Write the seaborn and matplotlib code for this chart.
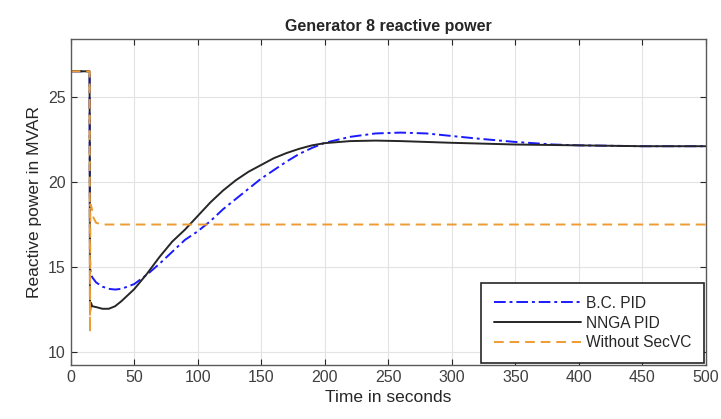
import matplotlib.pyplot as plt
import seaborn as sns
import pandas as pd

# values
t_bc = [0, 14.9, 15.2, 15.6, 17, 20, 25, 30, 35, 40, 50, 60, 70, 80, 90, 100, 110, 120,
        130, 140, 150, 160, 170, 180, 190, 200, 220, 240, 260, 280, 300, 320, 350, 380,
        400, 450, 500]
q_bc = [26.5, 26.5, 15.5, 14.7, 14.4, 14.1, 13.85, 13.72, 13.68, 13.72, 14.0, 14.55, 15.2,
        15.9, 16.6, 17.1, 17.7, 18.4, 19.0, 19.6, 20.2, 20.7, 21.2, 21.65, 22.0, 22.3, 22.65,
        22.85, 22.9, 22.85, 22.7, 22.55, 22.35, 22.2, 22.15, 22.1, 22.1]

t_nnga = [0, 14.9, 15.2, 16, 17, 20, 25, 30, 35, 40, 50, 60, 70, 80, 90, 100, 110, 120,
          130, 140, 150, 160, 170, 180, 190, 200, 220, 240, 260, 280, 300, 350, 400, 450, 500]
q_nnga = [26.5, 26.5, 12.3, 12.9, 12.7, 12.65, 12.55, 12.55, 12.7, 13.0, 13.7, 14.6, 15.6,
          16.5, 17.2, 18.0, 18.8, 19.5, 20.1, 20.6, 21.0, 21.4, 21.7, 21.95, 22.15, 22.28,
          22.4, 22.43, 22.4, 22.35, 22.3, 22.2, 22.15, 22.1, 22.1]

t_nosec = [0, 14.9, 15.2, 15.5, 16.5, 18, 20, 25, 500]
q_nosec = [26.5, 26.5, 11.2, 18.7, 18.5, 17.9, 17.6, 17.5, 17.5]

labels = ["B.C. PID", "NNGA PID", "Without SecVC"]
colors = ["#1a1aff", "#262626", "#ee9b33"]
styles = [(0, (6, 2, 1.5, 2)), "-", (0, (5, 3))]

sns.set_style("ticks")
plt.rcParams["font.family"] = ["Liberation Sans", "DejaVu Sans"]

fig = plt.figure(figsize=(7.21, 4.19), dpi=100)
ax = fig.add_axes([0.098, 0.129, 0.881, 0.778])

series = [(t_bc, q_bc), (t_nnga, q_nnga), (t_nosec, q_nosec)]
for (t, q), lab, c, ls in zip(series, labels, colors, styles):
    df = pd.DataFrame({"t": t, "q": q})
    sns.lineplot(data=df, x="t", y="q", ax=ax, color=c, linestyle=ls,
                 linewidth=1.4, label=lab, sort=False)

ax.set_xlim(0, 500)
ax.set_ylim(9.25, 28.4)
ax.set_xticks(range(0, 501, 50))
ax.set_yticks([10, 15, 20, 25])
ax.grid(True, color="#e3e3e3", linewidth=0.8)
ax.tick_params(direction="in", length=4, labelsize=11.5, colors="#262626",
               labelcolor="#404040", top=True, right=True)
for sp in ax.spines.values():
    sp.set_color("#5a5a5a")
    sp.set_linewidth(1.0)

ax.set_xlabel("Time in seconds", fontsize=12.5, color="#262626")
ax.set_ylabel("Reactive power in MVAR", fontsize=12.5, color="#262626")
ax.set_title("Generator 8 reactive power", fontsize=11.5, fontweight="bold", pad=6)

leg = ax.legend(loc="lower right", fontsize=11.2, fancybox=False, framealpha=1,
                edgecolor="#262626", handlelength=5.6, handletextpad=0.3,
                borderpad=0.8, labelspacing=0.3, borderaxespad=0.15)
leg.get_frame().set_linewidth(1.2)

fig.savefig("out.png", dpi=100)
